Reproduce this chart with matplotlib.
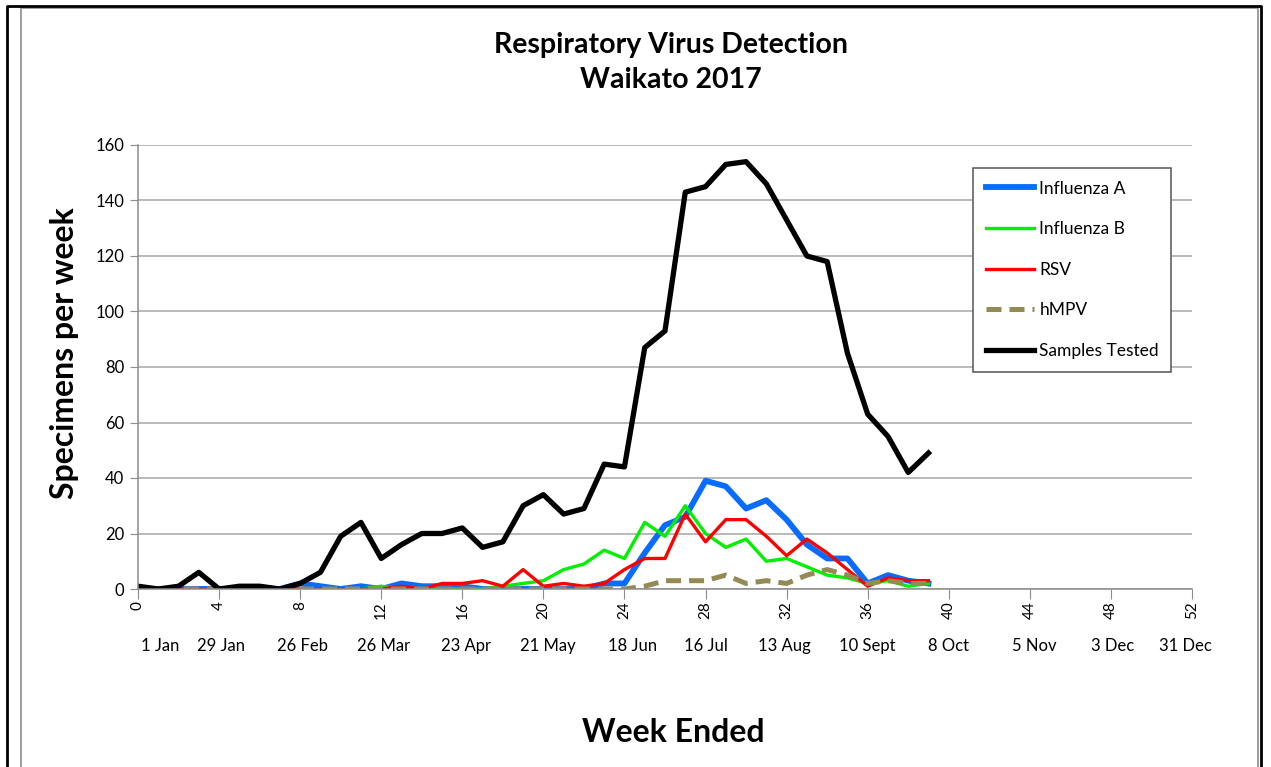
import matplotlib
matplotlib.use("Agg")
import matplotlib.pyplot as plt
from matplotlib.patches import Rectangle
from matplotlib.lines import Line2D

plt.rcParams['font.family'] = ['Lato', 'DejaVu Sans']

# week numbers 0..39
weeks = list(range(40))

flu_a = [0, 0, 0, 0, 0, 0, 0, 0, 2, 1,
         0, 1, 0, 2, 1, 1, 1, 0, 0, 0,
         0, 0, 0, 2, 2, 13, 23, 26, 39, 37,
         29, 32, 25, 16, 11, 11, 2, 5, 3, 2]
flu_b = [0, 0, 0, 0, 0, 0, 0, 0, 0, 0,
         0, 0, 1, 0, 0, 0, 0, 0, 1, 2,
         3, 7, 9, 14, 11, 24, 19, 30, 20, 15,
         18, 10, 11, 8, 5, 4, 2, 3, 1, 2]
rsv = [0, 0, 0, 0, 0, 0, 0, 0, 0, 0,
       0, 0, 0, 1, 0, 2, 2, 3, 1, 7,
       1, 2, 1, 2, 7, 11, 11, 27, 17, 25,
       25, 19, 12, 18, 13, 7, 1, 4, 3, 3]
hmpv = [0, 0, 0, 0, 0, 0, 0, 0, 0, 0,
        0, 0, 0, 0, 0, 0, 0, 0, 0, 0,
        0, 0, 0, 0, 0, 1, 3, 3, 3, 5,
        2, 3, 2, 5, 7, 5, 2, 3, 2, 2]
samples = [1, 0, 1, 6, 0, 1, 1, 0, 2, 6,
           19, 24, 11, 16, 20, 20, 22, 15, 17, 30,
           34, 27, 29, 45, 44, 87, 93, 143, 145, 153,
           154, 146, 133, 120, 118, 85, 63, 55, 42, 49]

date_labels = ['1 Jan', '29 Jan', '26 Feb', '26 Mar', '23 Apr', '21 May', '18 Jun',
               '16 Jul', '13 Aug', '10 Sept', '8 Oct', '5 Nov', '3 Dec', '31 Dec']
date_pos = [1.1, 4.1, 8.1, 12.1, 16.2, 20.2, 24.4, 28.0, 31.9, 36.0, 40.0, 44.2, 48.1, 51.7]

W, H = 1271, 767
fig = plt.figure(figsize=(W / 100, H / 100), dpi=100)

# chart area borders
fig.patches.append(Rectangle((21 / W, -0.1), (1258 - 21) / W, (H - 8) / H + 0.1,
                             transform=fig.transFigure, fill=False, edgecolor='#8c8c8c', lw=1.2))
fig.add_artist(Line2D([7 / W, 7 / W, 1261 / W, 1261 / W], [0, 1 - 6 / H, 1 - 6 / H, 0],
                      transform=fig.transFigure, color='black', lw=2))

ax = fig.add_axes([138 / W, 1 - 589 / H, (1192 - 138) / W, (589 - 145) / H])

ax.plot(weeks, flu_a, color='#0A6CFF', lw=4.2, label='Influenza A')
ax.plot(weeks, flu_b, color='#00F000', lw=2.4, label='Influenza B')
ax.plot(weeks, rsv, color='#FF0000', lw=2.4, label='RSV')
ax.plot(weeks, hmpv, color='#948A54', lw=3.6, dashes=(3, 1.6), label='hMPV')
ax.plot(weeks, samples, color='black', lw=3.8, label='Samples Tested')

ax.set_xlim(0, 52)
ax.set_ylim(0, 160)
ax.set_yticks(range(0, 161, 20))
ax.set_xticks(range(0, 53, 4))
ax.grid(axis='y', color='#a6a6a6', lw=1.1)
ax.set_axisbelow(True)
for s in ['top', 'right']:
    ax.spines[s].set_visible(False)
for s in ['left', 'bottom']:
    ax.spines[s].set_color('#8c8c8c')
    ax.spines[s].set_linewidth(1.1)
ax.tick_params(axis='y', length=6, color='#8c8c8c', labelsize=12, pad=4)
ax.tick_params(axis='x', length=7, color='#8c8c8c', labelsize=11, pad=2, labelrotation=90)

for lab, p in zip(date_labels, date_pos):
    ax.text(p, -20.5, lab, ha='center', va='center', fontsize=12)

fig.text(0.528, 1 - 45 / H, 'Respiratory Virus Detection', ha='center', va='center',
         fontsize=20.5, fontweight='bold')
fig.text(0.528, 1 - 80 / H, 'Waikato 2017', ha='center', va='center',
         fontsize=20.5, fontweight='bold')
fig.text(65 / W, 1 - 353 / H, 'Specimens per week', ha='center', va='center',
         rotation=90, fontsize=23, fontweight='bold')
fig.text(673 / W, 1 - 733 / H, 'Week Ended', ha='center', va='center',
         fontsize=23, fontweight='bold')

leg = ax.legend(loc='upper left', bbox_to_anchor=(973 / W, 1 - 168 / H),
                bbox_transform=fig.transFigure, borderaxespad=0, fontsize=12.5,
                labelspacing=1.42, handlelength=2.8, handletextpad=0.3,
                borderpad=0.72, fancybox=False, framealpha=1)
leg.get_frame().set_edgecolor('#555555')
leg.get_frame().set_linewidth(1.1)

fig.savefig('out.png', dpi=100)
